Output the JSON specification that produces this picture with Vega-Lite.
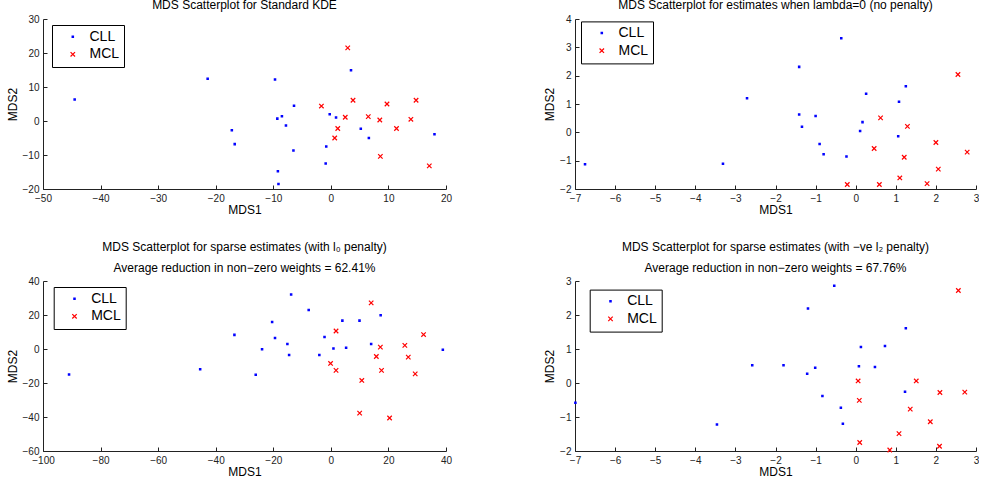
{
  "$schema": "https://vega.github.io/schema/vega-lite/v6.json",
  "padding": {"left": 6, "top": -1, "right": 0, "bottom": 0},
  "datasets": {
    "p1": [
      {"x": -44.5, "y": 6.3, "g": "CLL"}, {"x": -21.4, "y": 12.4, "g": "CLL"}, {"x": -17.2, "y": -2.7, "g": "CLL"}, {"x": -16.7, "y": -6.8, "g": "CLL"},
      {"x": 3.5, "y": 14.9, "g": "CLL"}, {"x": -9.7, "y": 12.2, "g": "CLL"}, {"x": -6.4, "y": 4.5, "g": "CLL"}, {"x": -0.2, "y": 2.0, "g": "CLL"},
      {"x": 0.9, "y": 1.0, "g": "CLL"}, {"x": -9.3, "y": 0.7, "g": "CLL"}, {"x": -8.5, "y": 1.4, "g": "CLL"}, {"x": -7.8, "y": -1.3, "g": "CLL"},
      {"x": 5.2, "y": -2.3, "g": "CLL"}, {"x": 6.6, "y": -5.0, "g": "CLL"}, {"x": 18.0, "y": -3.9, "g": "CLL"}, {"x": -6.5, "y": -8.7, "g": "CLL"},
      {"x": -0.8, "y": -7.5, "g": "CLL"}, {"x": -0.9, "y": -12.5, "g": "CLL"}, {"x": -9.2, "y": -14.8, "g": "CLL"}, {"x": -9.1, "y": -18.5, "g": "CLL"},
      {"x": 2.93, "y": 21.5, "g": "MCL"}, {"x": -1.64, "y": 4.4, "g": "MCL"}, {"x": 3.85, "y": 6.1, "g": "MCL"}, {"x": 9.75, "y": 5.0, "g": "MCL"},
      {"x": 14.8, "y": 6.1, "g": "MCL"}, {"x": 2.5, "y": 1.1, "g": "MCL"}, {"x": 6.5, "y": 1.3, "g": "MCL"}, {"x": 8.5, "y": 0.3, "g": "MCL"},
      {"x": 13.9, "y": 0.5, "g": "MCL"}, {"x": 1.2, "y": -2.2, "g": "MCL"}, {"x": 11.4, "y": -2.2, "g": "MCL"}, {"x": 0.67, "y": -5.0, "g": "MCL"},
      {"x": 8.6, "y": -10.4, "g": "MCL"}, {"x": 17.1, "y": -13.2, "g": "MCL"}
    ],
    "p2": [
      {"x": -6.75, "y": -1.13, "g": "CLL"}, {"x": -3.31, "y": -1.11, "g": "CLL"}, {"x": -0.36, "y": 3.32, "g": "CLL"}, {"x": -1.41, "y": 2.31, "g": "CLL"},
      {"x": -2.71, "y": 1.2, "g": "CLL"}, {"x": 1.25, "y": 1.63, "g": "CLL"}, {"x": 0.26, "y": 1.36, "g": "CLL"}, {"x": 1.08, "y": 1.08, "g": "CLL"},
      {"x": -1.41, "y": 0.63, "g": "CLL"}, {"x": -1.0, "y": 0.58, "g": "CLL"}, {"x": 0.17, "y": 0.36, "g": "CLL"}, {"x": -1.34, "y": 0.2, "g": "CLL"},
      {"x": 0.11, "y": 0.05, "g": "CLL"}, {"x": 1.06, "y": -0.14, "g": "CLL"}, {"x": -0.9, "y": -0.41, "g": "CLL"}, {"x": -0.8, "y": -0.77, "g": "CLL"},
      {"x": -0.23, "y": -0.85, "g": "CLL"},
      {"x": 2.55, "y": 2.04, "g": "MCL"}, {"x": 0.62, "y": 0.51, "g": "MCL"}, {"x": 1.29, "y": 0.21, "g": "MCL"}, {"x": 2.0, "y": -0.36, "g": "MCL"},
      {"x": 0.46, "y": -0.57, "g": "MCL"}, {"x": 2.78, "y": -0.7, "g": "MCL"}, {"x": 1.21, "y": -0.88, "g": "MCL"}, {"x": 2.06, "y": -1.3, "g": "MCL"},
      {"x": 1.1, "y": -1.61, "g": "MCL"}, {"x": -0.21, "y": -1.84, "g": "MCL"}, {"x": 0.59, "y": -1.84, "g": "MCL"}, {"x": 1.78, "y": -1.81, "g": "MCL"}
    ],
    "p3": [
      {"x": -90.95, "y": -15.0, "g": "CLL"}, {"x": -45.4, "y": -11.9, "g": "CLL"}, {"x": -33.5, "y": 8.3, "g": "CLL"}, {"x": -13.8, "y": 32.0, "g": "CLL"},
      {"x": -7.7, "y": 23.0, "g": "CLL"}, {"x": 17.3, "y": 19.9, "g": "CLL"}, {"x": -20.4, "y": 15.9, "g": "CLL"}, {"x": 4.0, "y": 16.7, "g": "CLL"},
      {"x": 9.95, "y": 16.7, "g": "CLL"}, {"x": -19.4, "y": 6.5, "g": "CLL"}, {"x": -2.2, "y": 7.1, "g": "CLL"}, {"x": -15.1, "y": 3.0, "g": "CLL"},
      {"x": 14.0, "y": 3.0, "g": "CLL"}, {"x": -23.9, "y": -0.1, "g": "CLL"}, {"x": 0.9, "y": 0.3, "g": "CLL"}, {"x": 5.3, "y": 0.7, "g": "CLL"},
      {"x": 38.9, "y": -0.5, "g": "CLL"}, {"x": -14.5, "y": -3.5, "g": "CLL"}, {"x": -4.0, "y": -3.5, "g": "CLL"}, {"x": -26.1, "y": -15.2, "g": "CLL"},
      {"x": 14.0, "y": 27.1, "g": "MCL"}, {"x": 1.8, "y": 10.6, "g": "MCL"}, {"x": 32.2, "y": 8.5, "g": "MCL"}, {"x": 25.7, "y": 2.1, "g": "MCL"},
      {"x": 17.2, "y": 1.1, "g": "MCL"}, {"x": -0.1, "y": -8.5, "g": "MCL"}, {"x": 15.8, "y": -4.4, "g": "MCL"}, {"x": 26.9, "y": -4.8, "g": "MCL"},
      {"x": 1.8, "y": -12.6, "g": "MCL"}, {"x": 17.6, "y": -12.6, "g": "MCL"}, {"x": 29.3, "y": -14.6, "g": "MCL"}, {"x": 10.75, "y": -18.5, "g": "MCL"},
      {"x": 10.0, "y": -37.7, "g": "MCL"}, {"x": 20.4, "y": -40.6, "g": "MCL"}
    ],
    "p4": [
      {"x": -6.99, "y": -0.58, "g": "CLL"}, {"x": -3.46, "y": -1.22, "g": "CLL"}, {"x": -0.535, "y": 2.86, "g": "CLL"}, {"x": -1.19, "y": 2.19, "g": "CLL"},
      {"x": 1.25, "y": 1.61, "g": "CLL"}, {"x": 0.73, "y": 1.09, "g": "CLL"}, {"x": 0.13, "y": 1.06, "g": "CLL"}, {"x": -2.58, "y": 0.52, "g": "CLL"},
      {"x": -1.8, "y": 0.52, "g": "CLL"}, {"x": -1.01, "y": 0.45, "g": "CLL"}, {"x": 0.08, "y": 0.49, "g": "CLL"}, {"x": 0.48, "y": 0.47, "g": "CLL"},
      {"x": -1.21, "y": 0.27, "g": "CLL"}, {"x": 1.23, "y": -0.26, "g": "CLL"}, {"x": -0.83, "y": -0.38, "g": "CLL"}, {"x": -0.37, "y": -0.73, "g": "CLL"},
      {"x": -0.32, "y": -1.2, "g": "CLL"},
      {"x": 2.56, "y": 2.72, "g": "MCL"}, {"x": 0.06, "y": 0.06, "g": "MCL"}, {"x": 1.51, "y": 0.06, "g": "MCL"}, {"x": 2.1, "y": -0.28, "g": "MCL"},
      {"x": 2.72, "y": -0.27, "g": "MCL"}, {"x": 0.09, "y": -0.51, "g": "MCL"}, {"x": 1.36, "y": -0.77, "g": "MCL"}, {"x": 1.86, "y": -1.14, "g": "MCL"},
      {"x": 1.08, "y": -1.49, "g": "MCL"}, {"x": 0.1, "y": -1.75, "g": "MCL"}, {"x": 2.09, "y": -1.86, "g": "MCL"}, {"x": 0.85, "y": -1.97, "g": "MCL"}
    ]
  },
  "columns": 2,
  "spacing": {"row": 92, "column": 129},
  "bounds": "flush",
  "resolve": {"legend": {"color": "independent", "shape": "independent"}},
  "concat": [
    {
      "data": {"name": "p1"},
      "width": 403, "height": 170,
      "title": {"text": "MDS Scatterplot for Standard KDE", "offset": 2},
      "mark": {"type": "point", "filled": false, "size": 20, "strokeWidth": 1.2, "opacity": 1},
      "encoding": {
        "x": {"field": "x", "type": "quantitative", "scale": {"domain": [-50, 20], "nice": false, "zero": false}, "axis": {"title": "MDS1", "values": [-50, -40, -30, -20, -10, 0, 10, 20]}},
        "y": {"field": "y", "type": "quantitative", "scale": {"domain": [-20, 30], "nice": false, "zero": false}, "axis": {"title": "MDS2", "values": [-20, -10, 0, 10, 20, 30]}},
        "color": {"field": "g", "type": "nominal", "scale": {"domain": ["CLL", "MCL"], "range": ["#0000ff", "#ff0000"]}, "legend": {"title": null, "orient": "none", "legendX": 9, "legendY": 6}},
        "shape": {"field": "g", "type": "nominal", "scale": {"domain": ["CLL", "MCL"], "range": ["M-0.3,-0.3H0.3V0.3H-0.3Z", "M-1,-1L1,1M1,-1L-1,1"]}, "legend": {"title": null, "orient": "none", "legendX": 9, "legendY": 6}}
      }
    },
    {
      "data": {"name": "p2"},
      "width": 401, "height": 170,
      "title": {"text": "MDS Scatterplot for estimates when lambda=0 (no penalty)", "offset": 2},
      "mark": {"type": "point", "filled": false, "size": 20, "strokeWidth": 1.2, "opacity": 1},
      "encoding": {
        "x": {"field": "x", "type": "quantitative", "scale": {"domain": [-7, 3], "nice": false, "zero": false}, "axis": {"title": "MDS1", "values": [-7, -6, -5, -4, -3, -2, -1, 0, 1, 2, 3]}},
        "y": {"field": "y", "type": "quantitative", "scale": {"domain": [-2, 4], "nice": false, "zero": false}, "axis": {"title": "MDS2", "values": [-2, -1, 0, 1, 2, 3, 4]}},
        "color": {"field": "g", "type": "nominal", "scale": {"domain": ["CLL", "MCL"], "range": ["#0000ff", "#ff0000"]}, "legend": {"title": null, "orient": "none", "legendX": 6, "legendY": 2.4}},
        "shape": {"field": "g", "type": "nominal", "scale": {"domain": ["CLL", "MCL"], "range": ["M-0.3,-0.3H0.3V0.3H-0.3Z", "M-1,-1L1,1M1,-1L-1,1"]}, "legend": {"title": null, "orient": "none", "legendX": 6, "legendY": 2.4}}
      }
    },
    {
      "data": {"name": "p3"},
      "width": 403, "height": 170,
      "title": {"text": ["MDS Scatterplot for sparse estimates (with l₀ penalty)", "Average reduction in non−zero weights = 62.41%"], "offset": 1},
      "mark": {"type": "point", "filled": false, "size": 20, "strokeWidth": 1.2, "opacity": 1},
      "encoding": {
        "x": {"field": "x", "type": "quantitative", "scale": {"domain": [-100, 40], "nice": false, "zero": false}, "axis": {"title": "MDS1", "values": [-100, -80, -60, -40, -20, 0, 20, 40]}},
        "y": {"field": "y", "type": "quantitative", "scale": {"domain": [-60, 40], "nice": false, "zero": false}, "axis": {"title": "MDS2", "values": [-60, -40, -20, 0, 20, 40]}},
        "color": {"field": "g", "type": "nominal", "scale": {"domain": ["CLL", "MCL"], "range": ["#0000ff", "#ff0000"]}, "legend": {"title": null, "orient": "none", "legendX": 10.7, "legendY": 6}},
        "shape": {"field": "g", "type": "nominal", "scale": {"domain": ["CLL", "MCL"], "range": ["M-0.3,-0.3H0.3V0.3H-0.3Z", "M-1,-1L1,1M1,-1L-1,1"]}, "legend": {"title": null, "orient": "none", "legendX": 10.7, "legendY": 6}}
      }
    },
    {
      "data": {"name": "p4"},
      "width": 401, "height": 170,
      "title": {"text": ["MDS Scatterplot for sparse estimates (with −ve l₂ penalty)", "Average reduction in non−zero weights = 67.76%"], "offset": 1},
      "mark": {"type": "point", "filled": false, "size": 20, "strokeWidth": 1.2, "opacity": 1},
      "encoding": {
        "x": {"field": "x", "type": "quantitative", "scale": {"domain": [-7, 3], "nice": false, "zero": false}, "axis": {"title": "MDS1", "values": [-7, -6, -5, -4, -3, -2, -1, 0, 1, 2, 3]}},
        "y": {"field": "y", "type": "quantitative", "scale": {"domain": [-2, 3], "nice": false, "zero": false}, "axis": {"title": "MDS2", "values": [-2, -1, 0, 1, 2, 3]}},
        "color": {"field": "g", "type": "nominal", "scale": {"domain": ["CLL", "MCL"], "range": ["#0000ff", "#ff0000"]}, "legend": {"title": null, "orient": "none", "legendX": 14.7, "legendY": 8.6}},
        "shape": {"field": "g", "type": "nominal", "scale": {"domain": ["CLL", "MCL"], "range": ["M-0.3,-0.3H0.3V0.3H-0.3Z", "M-1,-1L1,1M1,-1L-1,1"]}, "legend": {"title": null, "orient": "none", "legendX": 14.7, "legendY": 8.6}}
      }
    }
  ],
  "config": {
    "font": "Liberation Sans",
    "view": {"stroke": null},
    "axis": {"grid": false, "domainColor": "#222222", "domainWidth": 1, "tickColor": "#222222", "tickWidth": 1, "tickSize": -4, "labelColor": "#222222", "labelFontSize": 10, "labelFont": "Liberation Sans", "labelPadding": 8, "labelFlush": false, "labelOverlap": false, "titleColor": "black", "titleFontSize": 12, "titleFontWeight": "normal", "titleFont": "Liberation Sans"},
    "axisX": {"titlePadding": 1},
    "axisY": {"titlePadding": 3},
    "title": {"fontSize": 12, "fontWeight": "normal", "color": "black", "font": "Liberation Sans", "baseline": "bottom", "lineHeight": 21, "anchor": "middle"},
    "legend": {"labelFontSize": 14, "labelColor": "black", "labelFont": "Liberation Sans", "padding": 4.7, "rowPadding": 3.6, "symbolOffset": 9.1, "labelOffset": 9.7, "symbolSize": 20, "symbolStrokeWidth": 1.2, "strokeColor": "black", "fillColor": "white", "cornerRadius": 0}
  }
}
